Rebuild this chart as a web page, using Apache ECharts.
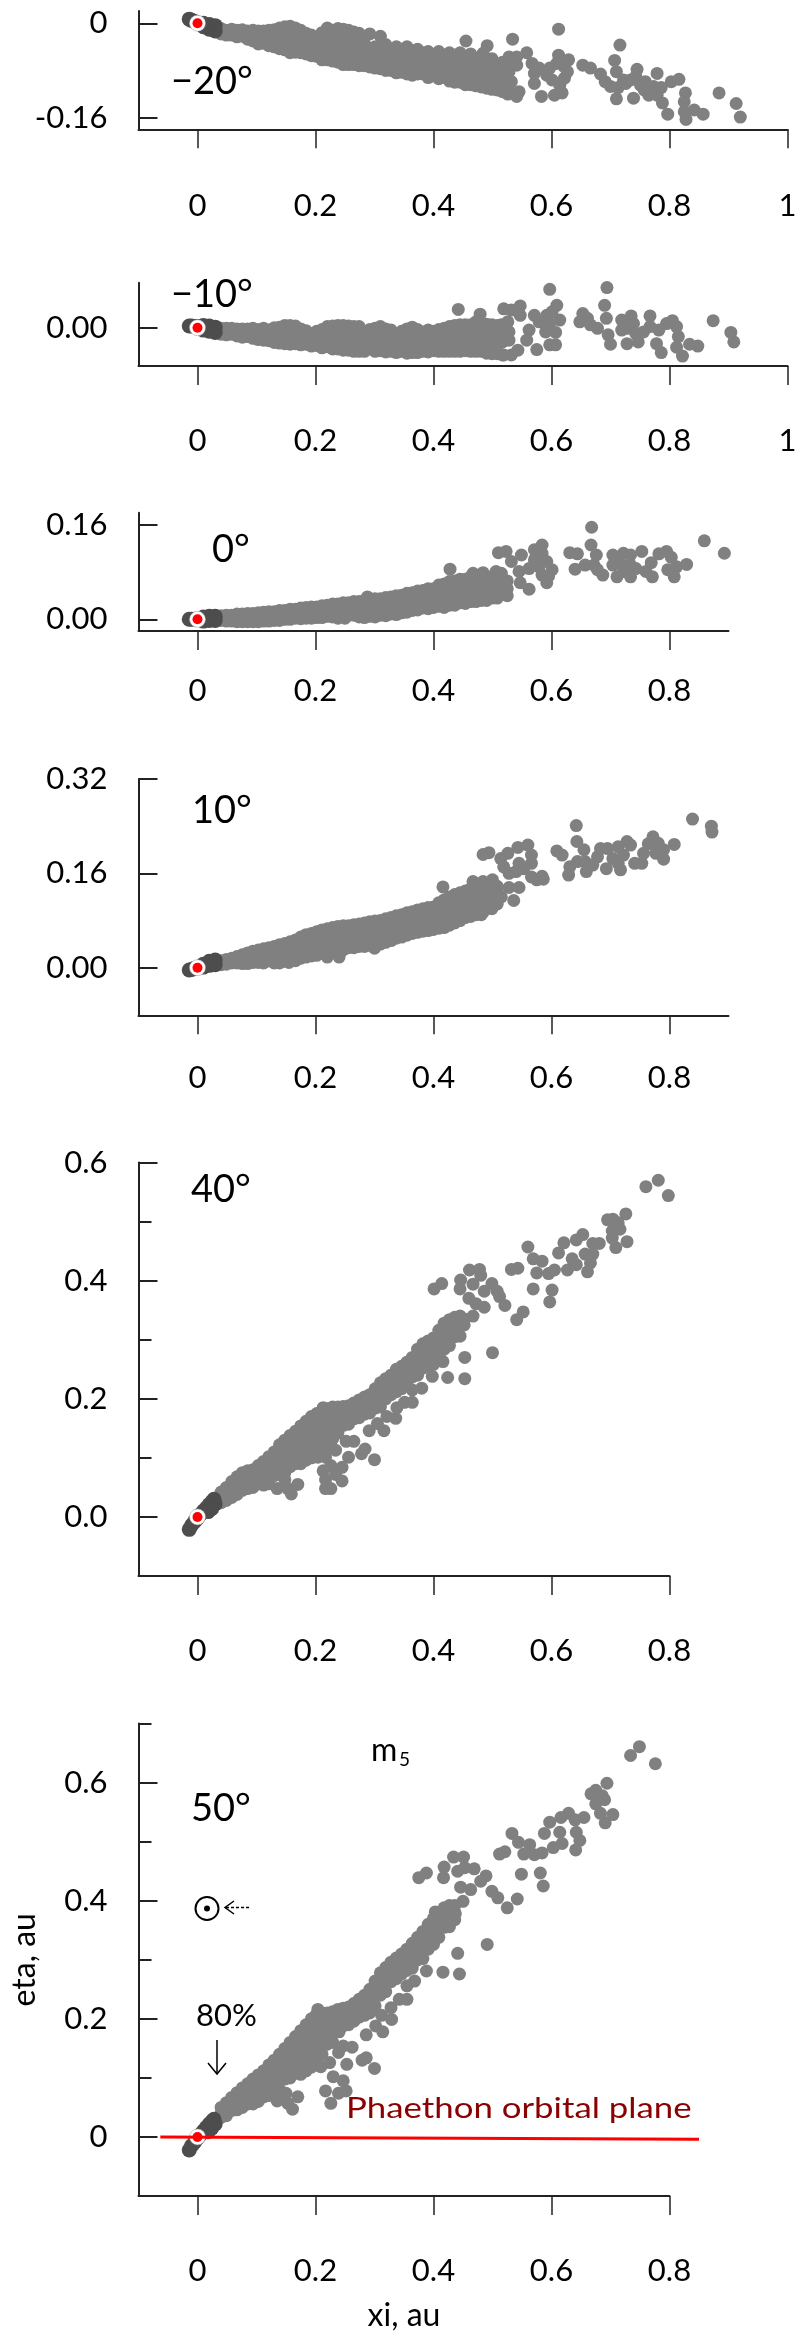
<!DOCTYPE html>
<html><head><meta charset="utf-8">
<style>html,body{margin:0;padding:0;background:#fff}#c{width:798px;height:2337px}</style>
<script src="https://cdn.jsdelivr.net/npm/echarts@6/dist/echarts.min.js"></script>
</head><body><div id="c"></div>
<script>
const xTicks=[0,0.2,0.4,0.6,0.8];
const xTicksLong=[0,0.2,0.4,0.6,0.8,1];
const xLabels={0:'0',0.2:'0.2',0.4:'0.4',0.6:'0.6',0.8:'0.8',1:'1'};

const greyM20=[[.04,-.009],[.04,-.018],[.058,-.01],[.058,-.02],[.076,-.011],[.076,-.022],[.094,-.012],[.094,-.022],[.094,-.03],[.112,-.013],[.112,-.024],[.112,-.034],[.13,-.011],[.13,-.022],[.13,-.033],[.13,-.04],[.148,-.006],[.148,-.016],[.148,-.027],[.148,-.037],[.148,-.045],[.157,-.005],[.166,-.008],[.166,-.02],[.166,-.031],[.166,-.042],[.166,-.049],[.184,-.017],[.184,-.029],[.184,-.04],[.184,-.052],[.202,-.024],[.202,-.035],[.202,-.046],[.202,-.056],[.22,-.008],[.22,-.019],[.22,-.03],[.22,-.041],[.22,-.052],[.22,-.062],[.238,-.009],[.238,-.021],[.238,-.033],[.238,-.044],[.238,-.055],[.238,-.066],[.256,-.012],[.256,-.024],[.256,-.036],[.256,-.047],[.256,-.058],[.256,-.07],[.274,-.017],[.274,-.029],[.274,-.041],[.274,-.052],[.274,-.064],[.274,-.072],[.292,-.018],[.292,-.042],[.292,-.053],[.292,-.064],[.292,-.074],[.31,-.022],[.31,-.043],[.31,-.055],[.31,-.066],[.31,-.077],[.328,-.044],[.328,-.056],[.328,-.068],[.328,-.08],[.346,-.047],[.346,-.059],[.346,-.071],[.346,-.083],[.364,-.046],[.364,-.058],[.364,-.07],[.364,-.082],[.364,-.088],[.382,-.05],[.382,-.062],[.382,-.074],[.382,-.086],[.4,-.054],[.4,-.066],[.4,-.078],[.4,-.089],[.418,-.056],[.418,-.068],[.418,-.08],[.418,-.092],[.436,-.057],[.436,-.069],[.436,-.081],[.436,-.093],[.436,-.1],[.454,-.058],[.454,-.07],[.454,-.082],[.454,-.094],[.454,-.104],[.472,-.06],[.472,-.072],[.472,-.084],[.472,-.096],[.472,-.106],[.49,-.066],[.49,-.078],[.49,-.09],[.49,-.102],[.49,-.11],[.508,-.07],[.508,-.082],[.508,-.094],[.508,-.106],[.508,-.113],[.526,-.072],[.526,-.086],[.526,-.098],[.526,-.11],[.526,-.12],
[.455,-.03],[.491,-.038],[.484,-.051],[.534,-.027],[.612,-.01],[.528,-.057],[.558,-.05],[.716,-.037],[.707,-.063],[.629,-.062],[.612,-.054],[.653,-.071],[.666,-.076],[.683,-.086],[.71,-.082],[.745,-.078],[.779,-.085],[.816,-.095],[.803,-.099],[.827,-.118],[.884,-.118],[.913,-.136],[.92,-.159],[.857,-.154],[.842,-.147],[.828,-.163],[.825,-.15],[.825,-.133],[.797,-.154],[.788,-.135],[.779,-.122],[.786,-.109],[.765,-.122],[.757,-.113],[.739,-.127],[.71,-.128],[.691,-.099],[.7,-.107],[.713,-.109],[.726,-.102],[.734,-.096],[.743,-.09],[.751,-.105],[.759,-.099],[.773,-.107],[.722,-.096],[.583,-.124],[.605,-.122],[.618,-.118],[.614,-.105],[.571,-.102],[.592,-.088],[.579,-.076],[.571,-.085],[.597,-.076],[.609,-.068],[.622,-.093],[.627,-.082],[.621,-.073],[.601,-.096],[.567,-.068],[.541,-.057],[.545,-.116],[.526,-.119],[.541,-.124],[.532,-.099],[.528,-.082],[.541,-.071]];
const fillM20=[[.049,-.012],[.049,-.02],[.067,-.012],[.067,-.023],[.085,-.013],[.085,-.027],[.103,-.013],[.103,-.027],[.103,-.035],[.121,-.012],[.121,-.03],[.121,-.038],[.139,-.008],[.139,-.02],[.139,-.03],[.139,-.043],[.157,-.014],[.157,-.026],[.157,-.037],[.157,-.05],[.175,-.012],[.175,-.025],[.175,-.037],[.175,-.05],[.193,-.02],[.193,-.033],[.193,-.045],[.193,-.055],[.211,-.016],[.211,-.028],[.211,-.041],[.211,-.055],[.211,-.062],[.229,-.012],[.229,-.026],[.229,-.038],[.229,-.05],[.229,-.064],[.247,-.01],[.247,-.027],[.247,-.04],[.247,-.053],[.247,-.07],[.265,-.015],[.265,-.03],[.265,-.044],[.265,-.06],[.265,-.07],[.283,-.024],[.283,-.036],[.283,-.048],[.283,-.06],[.283,-.072],[.301,-.04],[.301,-.05],[.301,-.062],[.301,-.076],[.319,-.036],[.319,-.05],[.319,-.062],[.319,-.08],[.337,-.04],[.337,-.052],[.337,-.066],[.337,-.084],[.355,-.04],[.355,-.054],[.355,-.068],[.355,-.086],[.373,-.044],[.373,-.056],[.373,-.07],[.373,-.086],[.391,-.048],[.391,-.06],[.391,-.074],[.391,-.092],[.409,-.048],[.409,-.062],[.409,-.076],[.409,-.094],[.427,-.05],[.427,-.064],[.427,-.078],[.427,-.098],[.445,-.05],[.445,-.064],[.445,-.078],[.445,-.1],[.463,-.052],[.463,-.066],[.463,-.08],[.463,-.104],[.481,-.056],[.481,-.07],[.481,-.086],[.481,-.108],[.499,-.06],[.499,-.074],[.499,-.09],[.499,-.112],[.517,-.066],[.517,-.08],[.517,-.096],[.517,-.116]];
const darkM20=[[-.014,.007],[-.01,.005],[-.005,.003],[0,.001],[.006,-.001],[.012,-.003],[.018,-.005],[.024,-.007],[.03,-.004],[.03,-.013],[.02,-.002],[.02,-.01],[.01,-.006],[.01,0]];

const greyM10=[[.04,-.001],[.04,-.011],[.058,-.001],[.058,-.011],[.076,-.002],[.076,-.012],[.076,-.016],[.094,-.001],[.094,-.01],[.094,-.018],[.112,-.001],[.112,-.011],[.112,-.021],[.13,0],[.13,-.01],[.13,-.02],[.13,-.025],[.148,.004],[.148,-.007],[.148,-.017],[.148,-.027],[.166,.003],[.166,-.008],[.166,-.018],[.166,-.027],[.184,-.005],[.184,-.016],[.184,-.028],[.202,-.006],[.202,-.017],[.202,-.03],[.22,.002],[.22,-.009],[.22,-.02],[.22,-.032],[.238,.004],[.238,-.007],[.238,-.018],[.238,-.029],[.238,-.036],[.256,.003],[.256,-.008],[.256,-.019],[.256,-.03],[.256,-.038],[.274,.002],[.274,-.01],[.274,-.021],[.274,-.033],[.274,-.04],[.292,-.003],[.292,-.014],[.292,-.025],[.292,-.036],[.31,.002],[.31,-.009],[.31,-.02],[.31,-.031],[.31,-.039],[.328,-.004],[.328,-.015],[.328,-.026],[.328,-.037],[.328,-.04],[.346,-.006],[.346,-.017],[.346,-.028],[.346,-.04],[.364,.001],[.364,-.01],[.364,-.021],[.364,-.032],[.364,-.042],[.382,-.007],[.382,-.018],[.382,-.029],[.382,-.04],[.4,-.006],[.4,-.017],[.4,-.028],[.4,-.039],[.418,-.001],[.418,-.012],[.418,-.023],[.418,-.034],[.418,-.04],[.436,.004],[.436,-.007],[.436,-.018],[.436,-.029],[.436,-.04],[.454,.005],[.454,-.006],[.454,-.017],[.454,-.028],[.454,-.039],[.472,.005],[.472,-.006],[.472,-.017],[.472,-.028],[.472,-.04],[.49,.006],[.49,-.005],[.49,-.016],[.49,-.027],[.49,-.043],[.508,.004],[.508,-.007],[.508,-.018],[.508,-.03],[.508,-.044],
[.442,.031],[.479,.023],[.472,.01],[.519,.032],[.532,.03],[.547,.037],[.547,.021],[.526,.01],[.597,.065],[.694,.068],[.69,.038],[.609,.038],[.693,.016],[.874,.012],[.904,-.008],[.909,-.024],[.848,-.031],[.834,-.028],[.822,-.048],[.812,-.033],[.786,-.042],[.778,-.027],[.815,-.015],[.812,.002],[.805,.012],[.795,.007],[.782,-.004],[.767,.02],[.767,.002],[.735,.02],[.719,.013],[.728,-.027],[.747,-.024],[.756,-.007],[.739,.007],[.73,-.001],[.743,-.01],[.719,-.004],[.7,-.028],[.696,-.012],[.678,-.001],[.666,.005],[.653,.024],[.648,.01],[.661,.016],[.614,.013],[.601,.027],[.592,.021],[.571,.021],[.579,.01],[.562,-.004],[.558,-.021],[.575,-.037],[.597,-.029],[.607,-.029],[.607,-.008],[.59,-.007],[.597,.007],[.543,-.038],[.532,-.046],[.519,-.046],[.528,-.021],[.528,-.007],[.515,.005]];
const fillM10=[[.049,-.001],[.049,-.012],[.067,-.002],[.067,-.014],[.085,-.002],[.085,-.015],[.103,-.003],[.103,-.02],[.121,-.004],[.121,-.022],[.139,.001],[.139,-.014],[.139,-.026],[.157,.004],[.157,-.012],[.157,-.028],[.175,-.002],[.175,-.014],[.175,-.029],[.193,-.01],[.193,-.022],[.193,-.031],[.211,-.003],[.211,-.012],[.211,-.024],[.211,-.034],[.229,.003],[.229,-.012],[.229,-.026],[.229,-.036],[.247,.004],[.247,-.013],[.247,-.025],[.247,-.038],[.265,.002],[.265,-.015],[.265,-.028],[.265,-.04],[.283,-.006],[.283,-.018],[.283,-.03],[.283,-.04],[.301,-.001],[.301,-.014],[.301,-.028],[.301,-.04],[.319,-.002],[.319,-.012],[.319,-.028],[.319,-.041],[.337,-.01],[.337,-.022],[.337,-.034],[.337,-.042],[.355,-.002],[.355,-.012],[.355,-.024],[.355,-.043],[.373,-.003],[.373,-.014],[.373,-.026],[.373,-.042],[.391,-.004],[.391,-.012],[.391,-.024],[.391,-.041],[.409,-.003],[.409,-.012],[.409,-.024],[.409,-.04],[.427,.002],[.427,-.01],[.427,-.024],[.427,-.04],[.445,.005],[.445,-.012],[.445,-.025],[.445,-.04],[.463,.005],[.463,-.012],[.463,-.024],[.463,-.04],[.481,.006],[.481,-.01],[.481,-.022],[.481,-.04],[.499,.005],[.499,-.012],[.499,-.024],[.499,-.044],[.517,.002],[.517,-.012],[.517,-.024],[.517,-.046]];
const darkM10=[[-.014,.003],[-.01,.003],[-.005,.002],[0,.002],[.006,.001],[.012,0],[.018,-.001],[.024,-.002],[.03,.001],[.03,-.008],[.02,.003],[.02,-.006],[.01,-.004],[.01,.004]];

const grey0=[[.04,.006],[.04,-.002],[.058,.007],[.058,-.003],[.076,.009],[.076,.001],[.076,-.004],[.094,.01],[.094,.002],[.094,-.004],[.112,.012],[.112,.004],[.112,-.003],[.13,.013],[.13,.005],[.13,-.002],[.148,.015],[.148,.007],[.148,0],[.166,.017],[.166,.009],[.166,.002],[.184,.02],[.184,.011],[.184,.002],[.202,.021],[.202,.012],[.202,.003],[.22,.024],[.22,.015],[.22,.005],[.238,.026],[.238,.017],[.238,.008],[.238,.002],[.256,.028],[.256,.019],[.256,.01],[.25,.002],[.274,.03],[.274,.021],[.274,.012],[.274,.004],[.288,.038],[.292,.024],[.292,.015],[.292,.005],[.31,.035],[.31,.025],[.31,.015],[.31,.007],[.328,.038],[.328,.028],[.328,.018],[.328,.009],[.346,.041],[.346,.031],[.346,.021],[.346,.011],[.364,.045],[.364,.035],[.364,.025],[.364,.015],[.382,.049],[.382,.039],[.382,.029],[.382,.019],[.4,.052],[.4,.041],[.4,.03],[.4,.02],[.418,.06],[.418,.049],[.418,.038],[.418,.027],[.418,.02],[.436,.065],[.436,.054],[.436,.043],[.436,.032],[.436,.024],[.454,.068],[.454,.056],[.454,.045],[.454,.034],[.454,.027],[.472,.07],[.472,.058],[.472,.047],[.472,.036],[.472,.03],[.49,.072],[.49,.06],[.49,.049],[.49,.038],[.49,.032],[.508,.07],[.508,.058],[.508,.046],[.508,.036],[.525,.065],[.525,.052],[.525,.04],
[.428,.085],[.467,.078],[.484,.079],[.506,.081],[.515,.078],[.51,.113],[.523,.115],[.532,.098],[.549,.109],[.545,.081],[.547,.062],[.562,.051],[.571,.118],[.584,.126],[.571,.101],[.584,.112],[.579,.089],[.592,.098],[.562,.086],[.601,.084],[.592,.062],[.584,.075],[.595,.073],[.668,.156],[.667,.126],[.676,.109],[.631,.113],[.644,.111],[.64,.085],[.657,.092],[.672,.092],[.687,.075],[.678,.084],[.704,.109],[.711,.072],[.734,.072],[.704,.092],[.722,.112],[.734,.109],[.753,.115],[.717,.095],[.734,.092],[.722,.081],[.743,.086],[.76,.081],[.771,.072],[.769,.096],[.782,.111],[.795,.115],[.803,.105],[.797,.084],[.808,.072],[.812,.089],[.829,.093],[.859,.133],[.893,.112]];
const fill0=[[.049,.007],[.049,-.003],[.067,.009],[.067,-.004],[.085,.01],[.085,.003],[.085,-.004],[.103,.011],[.103,.003],[.103,-.004],[.121,.013],[.121,.005],[.121,-.003],[.139,.015],[.139,.006],[.139,-.002],[.157,.017],[.157,.008],[.157,0],[.175,.019],[.175,.01],[.175,.001],[.193,.021],[.193,.012],[.193,.002],[.211,.023],[.211,.014],[.211,.003],[.229,.026],[.229,.015],[.229,.004],[.247,.028],[.247,.018],[.247,.005],[.265,.03],[.265,.02],[.265,.007],[.283,.032],[.283,.022],[.283,.01],[.283,.003],[.301,.035],[.301,.024],[.301,.012],[.301,.004],[.319,.037],[.319,.026],[.319,.014],[.319,.006],[.337,.04],[.337,.029],[.337,.017],[.337,.008],[.355,.044],[.355,.033],[.355,.021],[.355,.012],[.373,.048],[.373,.036],[.373,.025],[.373,.016],[.391,.052],[.391,.04],[.391,.028],[.391,.018],[.409,.058],[.409,.046],[.409,.034],[.409,.022],[.427,.064],[.427,.052],[.427,.04],[.427,.024],[.445,.068],[.445,.056],[.445,.044],[.445,.028],[.463,.072],[.463,.06],[.463,.048],[.463,.03],[.481,.074],[.481,.062],[.481,.05],[.481,.032],[.499,.072],[.499,.06],[.499,.048],[.499,.036],[.517,.068],[.517,.055],[.517,.042]];
const dark0=[[-.014,0],[-.01,0],[-.005,0],[0,0],[.006,0],[.012,.001],[.018,.002],[.024,.002],[.03,.005],[.03,-.002],[.02,.005],[.02,-.002],[.01,-.003],[.01,.004]];

const grey10=[[.04,.012],[.04,.005],[.058,.016],[.058,.008],[.076,.022],[.076,.013],[.076,.007],[.094,.028],[.094,.018],[.094,.009],[.112,.032],[.112,.023],[.112,.014],[.112,.008],[.13,.036],[.13,.026],[.13,.016],[.13,.008],[.148,.041],[.148,.031],[.148,.021],[.148,.011],[.155,.009],[.166,.047],[.166,.037],[.166,.027],[.166,.017],[.166,.012],[.184,.056],[.184,.046],[.184,.036],[.184,.026],[.184,.018],[.202,.061],[.202,.051],[.202,.041],[.202,.031],[.202,.021],[.22,.066],[.22,.056],[.22,.046],[.22,.036],[.22,.026],[.22,.018],[.238,.07],[.238,.06],[.238,.05],[.238,.04],[.238,.03],[.24,.018],[.256,.071],[.256,.061],[.256,.051],[.256,.041],[.256,.034],[.274,.074],[.274,.064],[.274,.054],[.274,.044],[.274,.036],[.292,.078],[.292,.068],[.292,.058],[.292,.048],[.3,.033],[.292,.038],[.31,.08],[.31,.07],[.31,.06],[.31,.05],[.31,.04],[.328,.085],[.328,.075],[.328,.065],[.328,.055],[.328,.046],[.346,.09],[.346,.08],[.346,.07],[.346,.06],[.346,.052],[.364,.095],[.364,.085],[.364,.075],[.364,.065],[.364,.058],[.382,.1],[.382,.09],[.382,.08],[.382,.07],[.382,.062],[.4,.103],[.4,.093],[.4,.083],[.4,.073],[.4,.065],[.418,.115],[.418,.105],[.418,.095],[.418,.085],[.418,.075],[.418,.068],[.436,.124],[.436,.114],[.436,.104],[.436,.094],[.436,.084],[.436,.076],[.454,.13],[.454,.12],[.454,.11],[.454,.1],[.454,.09],[.454,.085],[.472,.136],[.472,.126],[.472,.116],[.472,.106],[.472,.096],[.472,.09],[.49,.142],[.49,.132],[.49,.122],[.49,.112],[.49,.102],[.484,.094],[.508,.138],[.508,.128],[.508,.118],[.508,.108],
[.416,.137],[.467,.146],[.484,.146],[.5,.149],[.536,.114],[.515,.12],[.528,.136],[.545,.136],[.484,.192],[.494,.195],[.514,.185],[.526,.194],[.519,.171],[.528,.16],[.543,.204],[.56,.208],[.566,.191],[.566,.177],[.545,.177],[.553,.168],[.54,.163],[.566,.154],[.584,.155],[.575,.149],[.586,.15],[.642,.241],[.643,.214],[.655,.2],[.609,.198],[.618,.191],[.631,.171],[.629,.157],[.644,.18],[.659,.163],[.657,.18],[.67,.174],[.683,.202],[.678,.188],[.693,.168],[.695,.202],[.704,.185],[.717,.166],[.713,.205],[.728,.214],[.734,.208],[.722,.191],[.713,.177],[.741,.177],[.753,.177],[.756,.194],[.764,.21],[.772,.222],[.781,.211],[.777,.194],[.79,.184],[.79,.2],[.808,.209],[.839,.252],[.871,.24],[.872,.23]];
const fill10=[[.049,.014],[.049,.006],[.067,.019],[.067,.008],[.085,.025],[.085,.015],[.085,.007],[.103,.03],[.103,.02],[.103,.009],[.121,.034],[.121,.024],[.121,.012],[.139,.039],[.139,.028],[.139,.016],[.139,.008],[.157,.044],[.157,.034],[.157,.022],[.157,.012],[.175,.052],[.175,.04],[.175,.028],[.175,.016],[.193,.058],[.193,.046],[.193,.034],[.193,.02],[.211,.064],[.211,.052],[.211,.038],[.211,.024],[.229,.068],[.229,.056],[.229,.042],[.229,.028],[.247,.071],[.247,.058],[.247,.044],[.247,.03],[.265,.073],[.265,.06],[.265,.047],[.265,.034],[.283,.076],[.283,.062],[.283,.05],[.283,.036],[.301,.079],[.301,.066],[.301,.052],[.301,.038],[.319,.083],[.319,.07],[.319,.056],[.319,.043],[.337,.088],[.337,.074],[.337,.06],[.337,.05],[.355,.093],[.355,.08],[.355,.066],[.355,.055],[.373,.098],[.373,.084],[.373,.07],[.373,.06],[.391,.102],[.391,.088],[.391,.075],[.391,.063],[.409,.11],[.409,.096],[.409,.082],[.409,.067],[.427,.12],[.427,.106],[.427,.09],[.427,.072],[.445,.127],[.445,.112],[.445,.096],[.445,.08],[.463,.134],[.463,.118],[.463,.102],[.463,.087],[.481,.14],[.481,.124],[.481,.108],[.481,.09],[.499,.14],[.499,.126],[.499,.112],[.499,.1]];
const dark10=[[-.014,-.004],[-.01,-.003],[-.005,-.001],[0,0],[.006,.002],[.012,.004],[.018,.006],[.024,.008],[.03,.013],[.03,.005],[.02,.011],[.02,.004],[.01,.001],[.01,.006]];

const grey40=[[.04,.042],[.04,.032],[.04,.024],[.058,.06],[.058,.05],[.058,.04],[.058,.033],[.076,.075],[.076,.065],[.076,.055],[.076,.045],[.094,.08],[.094,.07],[.094,.06],[.094,.05],[.112,.094],[.112,.084],[.112,.074],[.112,.064],[.112,.054],[.13,.11],[.13,.1],[.13,.09],[.13,.08],[.13,.07],[.148,.13],[.148,.119],[.148,.108],[.148,.097],[.148,.086],[.148,.075],[.166,.145],[.166,.134],[.166,.123],[.166,.112],[.166,.101],[.166,.09],[.184,.162],[.184,.151],[.184,.14],[.184,.129],[.184,.118],[.184,.107],[.184,.096],[.202,.175],[.202,.164],[.202,.153],[.202,.142],[.202,.131],[.202,.12],[.202,.109],[.22,.183],[.22,.172],[.22,.161],[.22,.15],[.22,.139],[.22,.128],[.22,.119],[.238,.186],[.238,.175],[.238,.164],[.238,.153],[.238,.142],[.256,.188],[.256,.177],[.256,.166],[.256,.157],[.274,.198],[.274,.187],[.274,.176],[.274,.168],[.292,.207],[.292,.196],[.292,.185],[.292,.176],[.31,.227],[.31,.216],[.31,.205],[.31,.194],[.31,.186],[.328,.24],[.328,.229],[.328,.218],[.328,.207],[.346,.255],[.346,.244],[.346,.233],[.346,.222],[.346,.217],[.364,.27],[.364,.259],[.364,.248],[.364,.237],[.382,.293],[.382,.282],[.382,.271],[.382,.26],[.382,.252],[.4,.303],[.4,.292],[.4,.281],[.4,.27],[.4,.258],[.418,.328],[.418,.317],[.418,.306],[.418,.295],[.418,.284],[.436,.338],[.436,.327],[.436,.316],[.436,.305],[.452,.335],[.452,.325],
[.135,.048],[.148,.063],[.159,.039],[.17,.055],[.153,.048],[.217,.048],[.226,.048],[.245,.061],[.217,.063],[.234,.072],[.245,.084],[.226,.087],[.213,.078],[.204,.101],[.217,.101],[.234,.113],[.256,.101],[.252,.128],[.265,.128],[.278,.107],[.284,.115],[.3,.097],[.291,.146],[.305,.158],[.316,.146],[.321,.17],[.336,.167],[.338,.185],[.351,.194],[.364,.194],[.364,.215],[.38,.218],[.398,.238],[.424,.236],[.453,.234],[.453,.27],[.5,.278],[.416,.263],[.213,.185],[.401,.386],[.414,.395],[.446,.401],[.445,.386],[.461,.418],[.478,.419],[.48,.409],[.467,.394],[.499,.395],[.486,.382],[.508,.382],[.512,.373],[.46,.37],[.472,.361],[.486,.355],[.521,.358],[.467,.34],[.552,.347],[.541,.334],[.532,.419],[.543,.421],[.56,.457],[.569,.437],[.569,.386],[.601,.384],[.597,.364],[.575,.413],[.584,.433],[.595,.412],[.605,.418],[.612,.447],[.621,.464],[.627,.418],[.635,.437],[.642,.469],[.653,.478],[.642,.427],[.657,.445],[.67,.445],[.661,.415],[.666,.43],[.67,.463],[.681,.463],[.695,.503],[.704,.504],[.713,.498],[.726,.513],[.716,.487],[.703,.484],[.703,.472],[.709,.456],[.728,.466],[.76,.559],[.781,.57],[.798,.544]];
const fill40=[[.049,.05],[.049,.038],[.049,.028],[.067,.068],[.067,.054],[.067,.038],[.085,.078],[.085,.062],[.085,.048],[.103,.087],[.103,.072],[.103,.056],[.121,.102],[.121,.086],[.121,.07],[.121,.056],[.139,.122],[.139,.105],[.139,.09],[.139,.072],[.157,.138],[.157,.12],[.157,.104],[.157,.085],[.175,.154],[.175,.136],[.175,.118],[.175,.1],[.175,.09],[.193,.17],[.193,.152],[.193,.134],[.193,.116],[.193,.1],[.211,.18],[.211,.162],[.211,.144],[.211,.126],[.211,.112],[.229,.186],[.229,.168],[.229,.15],[.229,.132],[.247,.187],[.247,.172],[.247,.155],[.265,.193],[.265,.18],[.265,.166],[.283,.203],[.283,.19],[.283,.174],[.301,.217],[.301,.2],[.301,.184],[.319,.234],[.319,.218],[.319,.2],[.337,.25],[.337,.232],[.337,.212],[.355,.262],[.355,.245],[.355,.228],[.373,.284],[.373,.262],[.373,.24],[.391,.298],[.391,.278],[.391,.256],[.409,.316],[.409,.295],[.409,.272],[.427,.334],[.427,.31],[.427,.29],[.445,.34],[.445,.322],[.445,.306]];
const dark40=[[-.014,-.021],[-.01,-.014],[-.005,-.008],[0,-.002],[.005,.004],[.01,.01],[.015,.015],[.02,.021],[.025,.026],[.028,.03],[.03,.022],[.024,.014],[.018,.009]];

const grey50=[[.04,.05],[.04,.04],[.04,.033],[.058,.067],[.058,.056],[.058,.045],[.076,.083],[.076,.072],[.076,.061],[.076,.05],[.094,.098],[.094,.087],[.094,.076],[.094,.065],[.094,.056],[.112,.112],[.112,.101],[.112,.09],[.112,.079],[.112,.068],[.13,.13],[.13,.119],[.13,.108],[.13,.097],[.13,.086],[.13,.076],[.148,.15],[.148,.139],[.148,.128],[.148,.117],[.148,.106],[.148,.098],[.166,.17],[.166,.159],[.166,.148],[.166,.137],[.166,.126],[.166,.115],[.166,.108],[.184,.19],[.184,.179],[.184,.168],[.184,.157],[.184,.146],[.184,.135],[.184,.124],[.184,.112],[.202,.208],[.202,.197],[.202,.186],[.202,.175],[.202,.164],[.202,.153],[.202,.142],[.202,.133],[.22,.21],[.22,.199],[.22,.188],[.22,.177],[.22,.166],[.22,.157],[.238,.216],[.238,.205],[.238,.194],[.238,.186],[.256,.22],[.256,.209],[.256,.198],[.256,.19],[.274,.233],[.274,.222],[.274,.211],[.274,.203],[.292,.25],[.292,.239],[.292,.228],[.292,.217],[.292,.21],[.31,.278],[.31,.267],[.31,.256],[.31,.245],[.31,.24],[.328,.296],[.328,.285],[.328,.274],[.328,.263],[.346,.31],[.346,.299],[.346,.288],[.346,.276],[.364,.328],[.364,.317],[.364,.306],[.364,.295],[.364,.286],[.382,.348],[.382,.337],[.382,.326],[.382,.315],[.382,.302],[.4,.37],[.4,.359],[.4,.348],[.4,.337],[.4,.326],[.418,.388],[.418,.377],[.418,.366],[.418,.355],[.436,.392],[.436,.38],[.436,.368],
[.204,.216],[.135,.061],[.15,.074],[.161,.047],[.17,.068],[.153,.057],[.138,.081],[.226,.057],[.217,.078],[.239,.074],[.252,.078],[.247,.095],[.23,.102],[.209,.119],[.224,.126],[.239,.143],[.253,.123],[.279,.13],[.286,.134],[.3,.116],[.247,.154],[.262,.152],[.24,.178],[.286,.173],[.302,.188],[.314,.178],[.312,.206],[.329,.199],[.328,.219],[.342,.233],[.355,.233],[.355,.256],[.368,.264],[.388,.281],[.416,.279],[.444,.276],[.441,.311],[.491,.326],[.375,.439],[.388,.447],[.418,.457],[.417,.439],[.434,.474],[.451,.474],[.441,.45],[.453,.456],[.469,.454],[.489,.442],[.48,.433],[.463,.419],[.446,.423],[.499,.416],[.509,.405],[.45,.399],[.542,.403],[.525,.388],[.403,.381],[.424,.388],[.437,.378],[.512,.479],[.521,.483],[.533,.514],[.544,.499],[.549,.445],[.581,.447],[.586,.425],[.553,.479],[.571,.478],[.563,.495],[.584,.481],[.588,.514],[.603,.49],[.597,.533],[.614,.516],[.618,.497],[.616,.541],[.629,.548],[.64,.537],[.655,.541],[.642,.516],[.648,.502],[.641,.486],[.667,.581],[.675,.587],[.686,.578],[.675,.564],[.69,.571],[.694,.599],[.683,.548],[.691,.532],[.704,.546],[.734,.646],[.749,.661],[.776,.632]];
const fill50=[[.049,.058],[.049,.046],[.049,.036],[.067,.075],[.067,.06],[.067,.046],[.085,.09],[.085,.074],[.085,.056],[.103,.105],[.103,.088],[.103,.072],[.103,.06],[.121,.122],[.121,.104],[.121,.085],[.121,.07],[.139,.14],[.139,.122],[.139,.102],[.139,.08],[.157,.16],[.157,.14],[.157,.12],[.157,.1],[.175,.18],[.175,.16],[.175,.14],[.175,.12],[.175,.106],[.193,.2],[.193,.18],[.193,.16],[.193,.14],[.193,.118],[.211,.21],[.211,.192],[.211,.172],[.211,.152],[.211,.14],[.229,.212],[.229,.194],[.229,.174],[.229,.16],[.247,.218],[.247,.202],[.247,.188],[.265,.226],[.265,.212],[.265,.196],[.283,.24],[.283,.224],[.283,.206],[.301,.264],[.301,.242],[.301,.222],[.319,.287],[.319,.268],[.319,.246],[.337,.303],[.337,.285],[.337,.268],[.355,.318],[.355,.3],[.355,.282],[.373,.338],[.373,.32],[.373,.3],[.391,.36],[.391,.34],[.391,.318],[.409,.38],[.409,.36],[.409,.338],[.427,.392],[.427,.372],[.427,.356]];
const dark50=[[-.014,-.022],[-.01,-.015],[-.005,-.009],[0,-.002],[.005,.004],[.01,.01],[.015,.016],[.02,.022],[.025,.027],[.028,.03],[.03,.022],[.024,.015],[.018,.009]];

const nucleus=[[0,0]];
const planeLine=[[-.063,0],[.85,-.004]];

const FONT='Lato';
const INK='#222';
const panels=[
 {grey:greyM20,fill:fillM20,dark:darkM20,top:11,  bottom:129.3, yMin:-.1797,yMax:.0208,xMax:1,  xt:xTicksLong,ticks:[0,-.16],labels:{'0':'0','-0.16':'-0.16'},minor:null,margin:61},
 {grey:greyM10,fill:fillM10,dark:darkM10,top:282.7,bottom:366,  yMin:-.0648,yMax:.0763,xMax:1,  xt:xTicksLong,ticks:[0],labels:{'0':'0.00'},minor:null,margin:59},
 {grey:grey0,fill:fill0,  dark:dark0,  top:512.7,bottom:631,  yMin:-.0198,yMax:.1807,xMax:.9, xt:xTicks,ticks:[0,.16],labels:{'0':'0.00','0.16':'0.16'},minor:null,margin:44.5},
 {grey:grey10,fill:fill10, dark:dark10, top:779,  bottom:1015.3,yMin:-.0807,yMax:.32, xMax:.9, xt:xTicks,ticks:[0,.16,.32],labels:{'0':'0.00','0.16':'0.16','0.32':'0.32'},minor:null,margin:47.5},
 {grey:grey40,fill:fill40, dark:dark40, top:1162.5,bottom:1576,yMin:-.1,yMax:.6,xMax:.8,       xt:xTicks,ticks:[0,.2,.4,.6],labels:{'0':'0.0','0.2':'0.2','0.4':'0.4','0.6':'0.6'},minor:[.1,.3,.5],margin:59.5},
 {grey:grey50,fill:fill50, dark:dark50, top:1723.6,bottom:2196,yMin:-.1,yMax:.7,xMax:.8,       xt:xTicks,ticks:[0,.2,.4,.6],labels:{'0':'0','0.2':'0.2','0.4':'0.4','0.6':'0.6'},minor:[.1,.3,.5,.7],margin:59.5,names:true}
];
const grid=[],xAxis=[],yAxis=[],series=[];
const pxPerAu=590;
panels.forEach((p,i)=>{
 grid.push({left:138.5,top:p.top,width:(p.xMax+.1)*pxPerAu,height:p.bottom-p.top,containLabel:false,outerBoundsMode:'none'});
 xAxis.push({type:'value',gridIndex:i,min:-.1,max:p.xMax,splitLine:{show:false},
  name:p.names?'xi, au':'',nameLocation:'middle',nameGap:120,nameTextStyle:{fontFamily:FONT,fontSize:32,color:'#000',verticalAlign:'middle'},
  axisLine:{show:true,onZero:false,lineStyle:{color:INK,width:2}},
  axisTick:{show:true,length:19,lineStyle:{color:INK,width:1.5},customValues:p.xt},
  axisLabel:{show:true,margin:p.margin,fontFamily:FONT,fontSize:31,color:'#000',customValues:p.xt,formatter:v=>xLabels[v]}});
 const yIdx=yAxis.length;
 yAxis.push({type:'value',gridIndex:i,min:p.yMin,max:p.yMax,position:'left',splitLine:{show:false},
  name:p.names?'eta, au':'',nameLocation:'middle',nameGap:114,nameTextStyle:{fontFamily:FONT,fontSize:32,color:'#000',verticalAlign:'middle'},
  axisLine:{show:true,onZero:false,lineStyle:{color:INK,width:2}},
  axisTick:{show:true,inside:true,length:19,lineStyle:{color:INK,width:2},customValues:p.ticks},
  axisLabel:{show:true,margin:31,fontFamily:FONT,fontSize:31,color:'#000',customValues:p.ticks,formatter:v=>p.labels[String(v)]}});
 if(p.minor){yAxis.push({type:'value',gridIndex:i,min:p.yMin,max:p.yMax,position:'left',splitLine:{show:false},
  axisLine:{show:false,onZero:false},axisLabel:{show:false},
  axisTick:{show:true,inside:true,length:13,lineStyle:{color:INK,width:2},customValues:p.minor}});}
 const base={type:'scatter',xAxisIndex:i,yAxisIndex:yIdx,silent:true,animation:false,large:false,progressive:0,clip:false};
 series.push(Object.assign({},base,{name:'grey'+i,data:p.grey.concat(p.fill),symbolSize:13,itemStyle:{color:'#808080',opacity:1},z:2}));
 series.push(Object.assign({},base,{name:'dark'+i,data:p.dark,symbolSize:15,itemStyle:{color:'#4d4d4d',opacity:1},z:3}));
 series.push(Object.assign({},base,{name:'ring'+i,data:nucleus,symbolSize:16,itemStyle:{color:'#fff',opacity:1,borderColor:'#999',borderWidth:.5},z:4}));
 series.push(Object.assign({},base,{name:'red'+i,data:nucleus,symbolSize:10,itemStyle:{color:'#ff0000',opacity:1},z:6}));
});
// hidden wider axes so the orbital-plane line can run past the panel's x-axis end
grid.push({left:138.5,top:1723.6,width:590,height:472.4,containLabel:false,outerBoundsMode:'none'});
xAxis.push({type:'value',gridIndex:6,min:-.1,max:.9,show:false});
yAxis.push({type:'value',gridIndex:6,min:-.1,max:.7,show:false});
series.push({type:'line',xAxisIndex:6,yAxisIndex:yAxis.length-1,data:planeLine,showSymbol:false,symbol:'none',silent:true,animation:false,lineStyle:{color:'#ff0000',width:3},z:5});
function label(text,x,y,size,extra){return Object.assign({type:'text',x:x,y:y,silent:true,z:20,style:{text:text,fontFamily:FONT,fontSize:size,fill:'#000',textAlign:'left',textVerticalAlign:'middle'}},extra||{});}
const graphic=[
 label('\u221220\u00b0',171,82,38),label('\u221210\u00b0',171,295,38),label('0\u00b0',212,550,38),
 label('10\u00b0',192,811,38),label('40\u00b0',191,1189.5,38),label('50\u00b0',191,1809,38),
 label('80%',196,2016,31),label('m',371,1751,32),label('5',399,1760,19),
 {type:'text',x:346,y:2109,silent:true,z:20,scaleX:1.2,style:{text:'Phaethon orbital plane',fontFamily:FONT,fontSize:29,fill:'#8b0000',textAlign:'left',textVerticalAlign:'middle'}},
 {type:'circle',silent:true,z:20,shape:{cx:207,cy:1908.5,r:11.5},style:{fill:'none',stroke:'#000',lineWidth:2}},
 {type:'circle',silent:true,z:20,shape:{cx:207,cy:1908.5,r:3},style:{fill:'#000'}},
 {type:'line',silent:true,z:20,shape:{x1:249,y1:1907.5,x2:226,y2:1907.5},style:{stroke:'#000',lineWidth:1.4,lineDash:[3,2]}},
 {type:'polyline',silent:true,z:20,shape:{points:[[234,1901],[225,1907.5],[234,1914]]},style:{fill:'none',stroke:'#000',lineWidth:1.5}},
 {type:'line',silent:true,z:20,shape:{x1:217,y1:2040,x2:217,y2:2073},style:{stroke:'#000',lineWidth:1.5}},
 {type:'polyline',silent:true,z:20,shape:{points:[[208,2063],[217,2074],[226,2063]]},style:{fill:'none',stroke:'#000',lineWidth:1.5}}
];
const chart=echarts.init(document.getElementById('c'),null,{renderer:'canvas',width:798,height:2337});
chart.setOption({backgroundColor:'#fff',animation:false,grid,xAxis,yAxis,series,graphic});
</script></body></html>
